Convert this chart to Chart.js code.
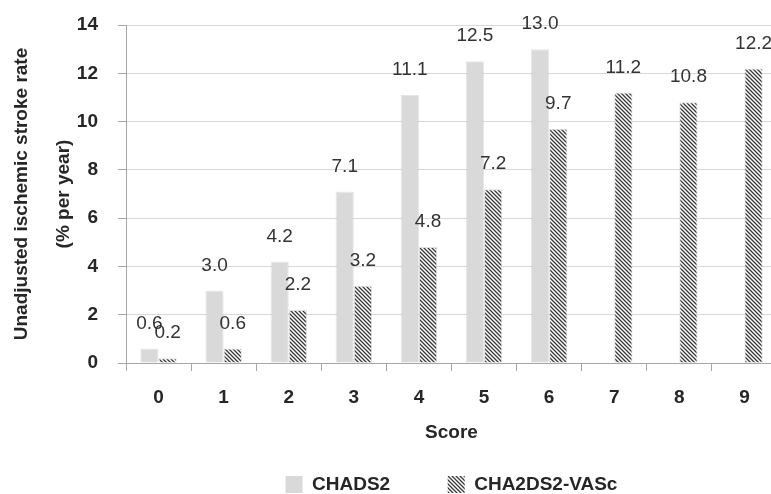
<!DOCTYPE html>
<html>
<head>
<meta charset="utf-8">
<script src="https://cdn.jsdelivr.net/npm/chart.js@4/dist/chart.umd.min.js"></script>
<style>
  html, body { margin: 0; padding: 0; background: #fff; overflow: hidden; }
  #wrap { width: 771px; height: 494px; overflow: hidden; }
</style>
</head>
<body>
<div id="wrap"><canvas id="c" width="777" height="494"></canvas></div>
<script>
// Score categories and unadjusted ischemic stroke rates (% per year)
const scores = ['0', '1', '2', '3', '4', '5', '6', '7', '8', '9'];
const chads2 = [0.6, 3.0, 4.2, 7.1, 11.1, 12.5, 13.0, null, null, null];
const cha2ds2vasc = [0.2, 0.6, 2.2, 3.2, 4.8, 7.2, 9.7, 11.2, 10.8, 12.2];
const yTicks = [0, 2, 4, 6, 8, 10, 12, 14];
const seriesNames = ['CHADS2', 'CHA2DS2-VASc'];

const FONT = '"Liberation Sans", Arial, Helvetica, sans-serif';

// diagonal "\" hatch fill
function makeHatch() {
  const s = 4;
  const tile = document.createElement('canvas');
  tile.width = tile.height = s;
  const g = tile.getContext('2d');
  g.fillStyle = '#ffffff';
  g.fillRect(0, 0, s, s);
  g.strokeStyle = '#383838';
  g.lineWidth = 1.3;
  g.beginPath();
  g.moveTo(-1, -1); g.lineTo(s + 1, s + 1);
  g.moveTo(-1, s - 1); g.lineTo(1, s + 1);
  g.moveTo(s - 1, -1); g.lineTo(s + 1, 1);
  g.stroke();
  return g.createPattern(tile, 'repeat');
}
const hatch = makeHatch();

// value labels above each bar
const valueLabels = {
  id: 'valueLabels',
  afterDatasetsDraw(chart) {
    const ctx = chart.ctx;
    ctx.save();
    ctx.font = '19px ' + FONT;
    ctx.fillStyle = '#333333';
    ctx.textAlign = 'center';
    ctx.textBaseline = 'middle';
    chart.data.datasets.forEach((ds, i) => {
      chart.getDatasetMeta(i).data.forEach((bar, j) => {
        const v = ds.data[j];
        if (v === null || v === undefined) return;
        ctx.fillText(v.toFixed(1), bar.x, bar.y - 25);
      });
    });
    ctx.restore();
  }
};

new Chart(document.getElementById('c'), {
  type: 'bar',
  data: {
    labels: scores,
    datasets: [
      {
        label: seriesNames[0],
        data: chads2,
        backgroundColor: '#d9d9d9',
        borderColor: 'rgba(0,0,0,0.10)',
        borderWidth: 1
      },
      {
        label: seriesNames[1],
        data: cha2ds2vasc,
        backgroundColor: hatch,
        borderColor: 'rgba(0,0,0,0.12)',
        borderWidth: 1
      }
    ]
  },
  options: {
    responsive: false,
    animation: false,
    devicePixelRatio: 1,
    layout: { padding: { top: 25, right: 0, bottom: -10, left: 0 } },
    datasets: {
      bar: { categoryPercentage: 0.56, barPercentage: 1.0 }
    },
    scales: {
      x: {
        offset: true,
        grid: {
          display: true,
          offset: true,
          drawOnChartArea: false,
          drawTicks: true,
          tickLength: 8,
          color: '#a6a6a6'
        },
        border: { color: '#a6a6a6' },
        ticks: {
          padding: 15,
          color: '#262626',
          font: { family: FONT, size: 19, weight: 'bold' }
        },
        title: {
          display: true,
          text: 'Score',
          color: '#262626',
          padding: { top: 0, bottom: 21 },
          font: { family: FONT, size: 19, weight: 'bold' }
        },
        afterFit(scale) { scale.height = 102; }
      },
      y: {
        min: 0,
        max: 14,
        afterBuildTicks(scale) { scale.ticks = yTicks.map(v => ({ value: v })); },
        grid: {
          color: '#d9d9d9',
          drawTicks: true,
          tickLength: 8,
          tickColor: '#a6a6a6'
        },
        border: { color: '#a6a6a6' },
        ticks: {
          padding: 20,
          color: '#262626',
          font: { family: FONT, size: 19, weight: 'bold' }
        },
        title: {
          display: true,
          text: ['Unadjusted ischemic stroke rate', '(% per year)'],
          color: '#262626',
          padding: { top: 1, bottom: 0 },
          font: { family: FONT, size: 19, weight: 'bold', lineHeight: 2.2 }
        },
        afterFit(scale) {
          scale.width = 126;
          scale.paddingTop = 0;
          scale.paddingBottom = 0;
        }
      }
    },
    plugins: {
      legend: {
        position: 'bottom',
        fullSize: false,
        labels: {
          boxWidth: 17,
          boxHeight: 17,
          padding: 10,
          color: '#262626',
          font: { family: FONT, size: 19, weight: 'bold' },
          generateLabels(chart) {
            const items = Chart.defaults.plugins.legend.labels.generateLabels(chart);
            items.forEach((it, i) => {
              it.lineWidth = 0;
              if (i === 0) it.text = it.text + '\u00a0'.repeat(9);
            });
            return items;
          }
        }
      },
      tooltip: { enabled: false }
    }
  },
  plugins: [valueLabels]
});
</script>
</body>
</html>
